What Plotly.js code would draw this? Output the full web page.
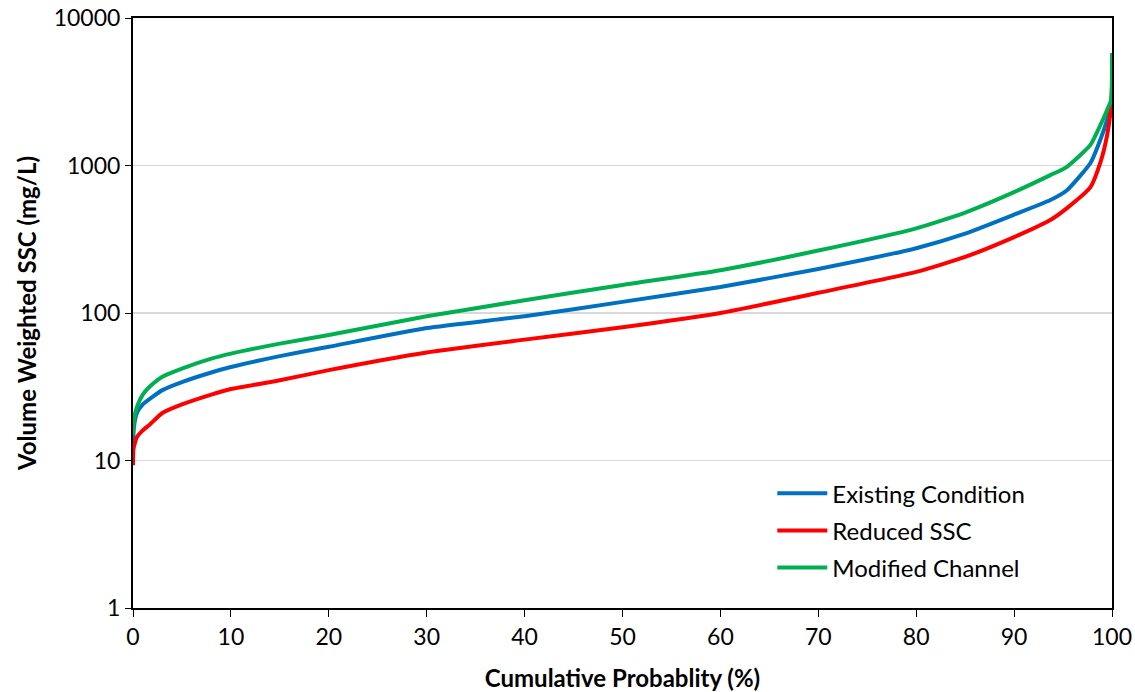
<!DOCTYPE html>
<html><head><meta charset="utf-8">
<script src="https://cdn.plot.ly/plotly-3.0.1.min.js"></script>
<style>html,body{margin:0;padding:0;background:#fff}#chart{width:1135px;height:692px}</style>
</head><body><div id="chart"></div>
<script>
const seriesNames = ["Existing Condition", "Reduced SSC", "Modified Channel"];
const seriesColors = ["#0070C0", "#FF0000", "#00B050"];

const existingX = [0, 0.1, 0.4, 1, 2, 3, 5, 8, 10, 15, 20, 30, 40, 50, 60, 70, 80, 85, 90, 93.7, 95.4, 97.8, 98.8, 99.5, 99.9, 100];
const existingY = [13, 17, 21, 24, 27, 30, 34, 39.5, 43, 51, 59, 79, 95, 119, 150, 199, 275, 345, 464, 583, 680, 1040, 1490, 2040, 2600, 2900];

const reducedX = [0, 0.05, 0.4, 1, 1.7, 3, 5, 8, 10, 15, 20, 30, 40, 50, 60, 70, 80, 85, 90, 93.7, 95.4, 97.8, 98.8, 99.5, 99.9, 100];
const reducedY = [9.3, 12, 14.4, 16, 17.5, 21, 24, 28, 30.5, 35, 41, 54, 66, 80, 100, 137, 190, 240, 327, 427, 514, 713, 1040, 1600, 2500, 3400];

const modifiedX = [0, 0.1, 0.4, 1, 2, 3, 5, 8, 10, 15, 20, 30, 40, 50, 60, 70, 80, 85, 90, 93.7, 95.4, 97.8, 98.8, 99.5, 99.9, 100];
const modifiedY = [15, 19, 23, 28, 33, 37, 42, 49, 53, 62, 71, 95, 122, 155, 195, 265, 375, 480, 660, 860, 980, 1380, 1870, 2380, 2760, 5800];

const xTicks = [0, 10, 20, 30, 40, 50, 60, 70, 80, 90, 100];
const yTicks = [1, 10, 100, 1000, 10000];
const yTickText = ["1", "10", "100", "1000", "10000"];

const xs = [existingX, reducedX, modifiedX];
const ys = [existingY, reducedY, modifiedY];

const traces = seriesNames.map((n, i) => ({
  type: "scatter", mode: "lines", name: n, x: xs[i], y: ys[i],
  legendgroup: "g" + i,
  line: {color: seriesColors[i], width: 4, shape: "spline", smoothing: 0.5}
}));

const font = "Lato, 'Open Sans', sans-serif";
const layout = {
  width: 1135, height: 692,
  margin: {l: 133, r: 23, t: 18, b: 84},
  paper_bgcolor: "#fff", plot_bgcolor: "#fff",
  font: {family: font, size: 22, color: "#000"},
  showlegend: true,
  legend: {x: 0.653, y: 0.232, xanchor: "left", yanchor: "top", itemwidth: 50,
           font: {family: font, size: 24, color: "#000"}, tracegroupgap: 3,
           bgcolor: "rgba(0,0,0,0)"},
  xaxis: {range: [0, 100], tickvals: xTicks, ticks: "outside", ticklen: 7, tickcolor: "#000",
          showline: true, linecolor: "#000", linewidth: 2, mirror: true, showgrid: false, zeroline: false,
          tickfont: {family: font, size: 23, color: "#000"},
          title: {text: "<b>Cumulative Probablity (%)</b>", font: {family: font, size: 24, color: "#000"}, standoff: 25}},
  yaxis: {type: "log", range: [0, 4], tickvals: yTicks, ticktext: yTickText, ticks: "outside", ticklen: 6,
          tickcolor: "#000", showline: true, linecolor: "#000", linewidth: 2, mirror: true,
          showgrid: true, gridcolor: "#D9D9D9", gridwidth: 1.5, zeroline: false,
          tickfont: {family: font, size: 23, color: "#000"},
          title: {text: "<b>Volume Weighted SSC (mg/L)</b>", font: {family: font, size: 24, color: "#000"}, standoff: 10}}
};
Plotly.newPlot("chart", traces, layout, {staticPlot: true});
</script></body></html>
